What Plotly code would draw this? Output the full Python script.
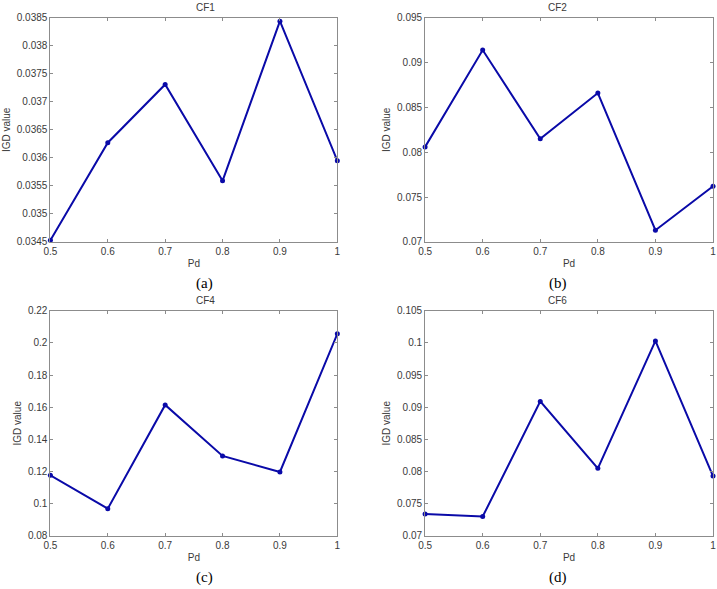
import plotly.graph_objects as go

# Data
pd_values = [0.5, 0.6, 0.7, 0.8, 0.9, 1.0]
cf1_igd = [0.03453, 0.03627, 0.03731, 0.03559, 0.03844, 0.03595]
cf2_igd = [0.0806, 0.0914, 0.0815, 0.0866, 0.0713, 0.0762]
cf4_igd = [0.1176, 0.0969, 0.1614, 0.1297, 0.1197, 0.2056]
cf6_igd = [0.0734, 0.0730, 0.0909, 0.0805, 0.1003, 0.0793]

titles = ['CF1', 'CF2', 'CF4', 'CF6']
panel_labels = ['(a)', '(b)', '(c)', '(d)']
y_ranges = [[0.0345, 0.0385], [0.07, 0.095], [0.08, 0.22], [0.07, 0.105]]
y_dticks = [0.0005, 0.005, 0.02, 0.005]

W, H = 717, 589
# pixel boxes of the four axes: left, right, top, bottom
boxes = [(44, 335, 13, 241), (424, 716, 13, 241),
         (44, 335, 311, 540), (424, 716, 311, 540)]

line_color = '#0a0aa8'
axis_color = '#8c8c8c'
text_color = '#3a3a3a'

fig = go.Figure()
series = [cf1_igd, cf2_igd, cf4_igd, cf6_igd]

for i, ys in enumerate(series):
    n = '' if i == 0 else str(i + 1)
    left, right, top, bottom = boxes[i]
    fig.add_trace(go.Scatter(
        x=pd_values, y=ys, mode='lines+markers',
        line=dict(color=line_color, width=2),
        marker=dict(color=line_color, size=5),
        xaxis='x' + n, yaxis='y' + n, showlegend=False, cliponaxis=False
    ))
    common = dict(showgrid=False, zeroline=False, showline=True, linecolor=axis_color,
                  linewidth=1, mirror='ticks', ticks='inside', ticklen=3,
                  tickcolor=axis_color,
                  tickfont=dict(family='Liberation Sans, Arial', size=10, color=text_color))
    fig.update_layout(**{
        'xaxis' + n: dict(domain=[left / W, right / W], anchor='y' + n,
                          range=[0.5, 1.0], tickvals=pd_values,
                          ticktext=['0.5', '0.6', '0.7', '0.8', '0.9', '1'],
                          title=dict(text='Pd', standoff=4,
                                     font=dict(family='Liberation Sans, Arial', size=10, color=text_color)),
                          **common),
        'yaxis' + n: dict(domain=[1 - bottom / H, 1 - top / H], anchor='x' + n,
                          range=y_ranges[i], dtick=y_dticks[i],
                          title=dict(text='IGD value', standoff=4,
                                     font=dict(family='Liberation Sans, Arial', size=10, color=text_color)),
                          **common),
    })
    cx = (left + right) / 2 / W
    fig.add_annotation(x=cx, y=1 - (top - 3) / H, xref='paper', yref='paper',
                       text=titles[i], showarrow=False, yanchor='bottom',
                       font=dict(family='Liberation Sans, Arial', size=10, color=text_color))
    fig.add_annotation(x=cx, y=1 - (bottom + 42) / H, xref='paper', yref='paper',
                       text=panel_labels[i], showarrow=False, yanchor='middle',
                       font=dict(family='Liberation Serif, Times New Roman', size=15, color='black'))

fig.update_layout(
    width=W, height=H,
    margin=dict(l=0, r=0, t=0, b=0),
    plot_bgcolor='white', paper_bgcolor='white'
)

# drop the default page margin so the figure fills the window exactly
fig.write_html("out.html", config={'displayModeBar': False},
               post_script="document.body.style.margin='0';document.body.style.overflow='hidden';")
